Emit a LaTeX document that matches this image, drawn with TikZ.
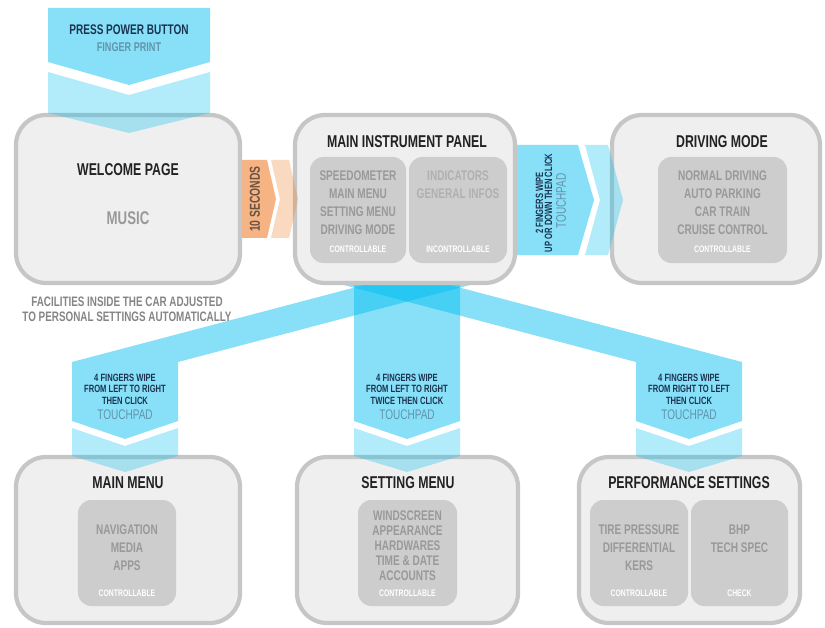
\documentclass[tikz,border=0pt]{standalone}
\usepackage{fontspec}
\setmainfont{Liberation Sans}[FakeStretch=0.72]
\definecolor{wipeblue}{HTML}{00BEF0}
\definecolor{waitorange}{HTML}{F08232}
\definecolor{screenline}{HTML}{C6C6C6}
\definecolor{screenfill}{HTML}{EFEFEF}
\definecolor{panefill}{HTML}{CDCDCD}
\definecolor{itemgrey}{HTML}{999999}
\definecolor{infogrey}{HTML}{B0B0B0}
\definecolor{titledark}{HTML}{222222}
\definecolor{navytext}{HTML}{1C3350}
\definecolor{padtext}{HTML}{6294AC}
\definecolor{notegrey}{HTML}{858585}
\definecolor{secondstext}{HTML}{6A5242}
\tikzset{
  screen/.style={draw=screenline, line width=3.6pt, fill=screenfill, rounded corners=0.9cm, inner sep=0pt},
  pane/.style={fill=panefill, rounded corners=0.4cm, inner sep=0pt},
  band/.style={fill=wipeblue, fill opacity=0.47},
  bandlight/.style={fill=wipeblue, fill opacity=0.3},
  waitband/.style={fill=waitorange, fill opacity=0.6},
  waitlight/.style={fill=waitorange, fill opacity=0.3},
  title/.style={text=titledark, inner sep=0pt, font=\fontsize{14.6}{16}\selectfont\bfseries},
  items/.style={text=itemgrey, align=center, inner sep=0pt, font=\fontsize{11.9}{15.3}\selectfont\bfseries},
  tag/.style={text=white, inner sep=0pt, font=\fontsize{8.1}{9}\selectfont\bfseries},
  gesture/.style={text=navytext, align=center, inner sep=0pt, font=\fontsize{9}{9.8}\selectfont\bfseries},
  pad/.style={text=padtext, inner sep=0pt, font=\fontsize{11.9}{13}\selectfont},
}

\begin{document}
\begin{tikzpicture}[x=0.03cm, y=-0.03cm]
  \useasboundingbox (0,0) rectangle (825,628);

  % dark bands, behind the screens
  \fill[band] (48,8) -- (210,8) -- (210,62) -- (129,85) -- (48,62) -- cycle;
  \fill[waitband] (236,160) -- (267,160) -- (276,199) -- (267,238) -- (236,238) -- cycle;
  \fill[band] (512,145) -- (578,145) -- (594,200) -- (578,255) -- (512,255) -- cycle;
  \fill[band] (72,421) -- (72,362) -- (383,280) -- (489,280) -- (178,362) -- (178,421) -- (125,439) -- cycle;
  \fill[band] (354,280) -- (460,280) -- (460,421) -- (407,439) -- (354,421) -- cycle;
  \fill[band] (636,421) -- (636,362) -- (325,280) -- (431,280) -- (742,362) -- (742,421) -- (689,439) -- cycle;

  \node[screen, minimum width=6.72cm, minimum height=5.04cm] (welcome) at (128,199) {};
  \node[screen, minimum width=6.6cm, minimum height=5.04cm] (panel) at (405,199) {};
  \node[screen, minimum width=6.24cm, minimum height=5.04cm] (drive) at (716,199) {};
  \node[screen, minimum width=6.72cm, minimum height=4.98cm] (mainmenu) at (128,540) {};
  \node[screen, minimum width=6.63cm, minimum height=4.98cm] (setmenu) at (407.5,540) {};
  \node[screen, minimum width=6.63cm, minimum height=4.98cm] (perf) at (689.5,540) {};

  \node[pane, minimum width=2.88cm, minimum height=3.18cm] (panelctl) at (358,210) {};
  \node[pane, minimum width=2.94cm, minimum height=3.18cm] (panelinfo) at (458,210) {};
  \node[pane, minimum width=3.87cm, minimum height=3.18cm] (drivectl) at (722.5,210) {};
  \node[pane, minimum width=2.94cm, minimum height=3.18cm] (menuctl) at (127,553) {};
  \node[pane, minimum width=2.97cm, minimum height=3.18cm] (setctl) at (407.5,553) {};
  \node[pane, minimum width=2.94cm, minimum height=3.18cm] (perfctl) at (639,553) {};
  \node[pane, minimum width=2.91cm, minimum height=3.18cm] (perfchk) at (739.5,553) {};

  % light chevrons, over the screen borders
  \fill[bandlight] (48,72) -- (129,95) -- (210,72) -- (210,113) -- (129,133) -- (48,113) -- cycle;
  \fill[waitlight] (271,160) -- (289,160) -- (298,199) -- (289,238) -- (271,238) -- (280,199) -- cycle;
  \fill[bandlight] (585,145) -- (608,145) -- (623,200) -- (608,255) -- (585,255) -- (600,200) -- cycle;
  \fill[bandlight] (72,428) -- (125,446) -- (178,428) -- (178,456) -- (125,472) -- (72,456) -- cycle;
  \fill[bandlight] (354,428) -- (407,446) -- (460,428) -- (460,456) -- (407,472) -- (354,456) -- cycle;
  \fill[bandlight] (636,428) -- (689,446) -- (742,428) -- (742,456) -- (689,472) -- (636,456) -- cycle;

  \node[text=navytext, font=\fontsize{11.9}{13}\selectfont\bfseries] (presslabel) at (129,30) {PRESS POWER BUTTON};
  \node[text=padtext, font=\fontsize{10.8}{12}\selectfont\bfseries] (fingerlabel) at (129,47) {FINGER PRINT};

  \node[title] (welcometitle) at (128,170) {WELCOME PAGE};
  \node[text=itemgrey, font=\fontsize{15.7}{17}\selectfont\bfseries] (musiclabel) at (128,218) {MUSIC};
  \node[text=notegrey, align=center, font=\fontsize{11.7}{12.8}\selectfont\bfseries] (facilities) at (127,309.5)
    {FACILITIES INSIDE THE CAR ADJUSTED\\TO PERSONAL SETTINGS AUTOMATICALLY};

  \node[text=secondstext, rotate=90, font=\fontsize{12.3}{13}\selectfont\bfseries] (seconds) at (255,199) {10 SECONDS};

  \node[title] (paneltitle) at (407,142) {MAIN INSTRUMENT PANEL};
  \node[items] (panelitems) at (358,203) {SPEEDOMETER\\MAIN MENU\\SETTING MENU\\DRIVING MODE};
  \node[tag] (paneltag) at (358,249) {CONTROLLABLE};
  \node[items, text=infogrey] (infoitems) at (458,185) {INDICATORS\\GENERAL INFOS};
  \node[tag] (infotag) at (458,249) {INCONTROLLABLE};

  \node[text=navytext, rotate=90, align=center, inner sep=0pt, font=\fontsize{9}{7.8}\selectfont\bfseries] (twowipe) at (544,203)
    {2 FINGERS WIPE\\UP OR DOWN THEN CLICK};
  \node[pad, rotate=90] (twopad) at (561,201) {TOUCHPAD};

  \node[title] (drivetitle) at (722,142) {DRIVING MODE};
  \node[items] (driveitems) at (722.5,203) {NORMAL DRIVING\\AUTO PARKING\\CAR TRAIN\\CRUISE CONTROL};
  \node[tag] (drivetag) at (722.5,249) {CONTROLLABLE};

  \node[gesture] (leftwipe) at (125,389) {4 FINGERS WIPE\\FROM LEFT TO RIGHT\\THEN CLICK};
  \node[pad] (leftpad) at (125,415) {TOUCHPAD};
  \node[gesture] (midwipe) at (407,389) {4 FINGERS WIPE\\FROM LEFT TO RIGHT\\TWICE THEN CLICK};
  \node[pad] (midpad) at (407,415) {TOUCHPAD};
  \node[gesture] (rightwipe) at (689,389) {4 FINGERS WIPE\\FROM RIGHT TO LEFT\\THEN CLICK};
  \node[pad] (rightpad) at (689,415) {TOUCHPAD};

  \node[title] (menutitle) at (128,483) {MAIN MENU};
  \node[items] (menuitems) at (127,548) {NAVIGATION\\MEDIA\\APPS};
  \node[tag] (menutag) at (127,593) {CONTROLLABLE};

  \node[title] (settitle) at (408,483) {SETTING MENU};
  \node[items, font=\fontsize{11.9}{12.75}\selectfont\bfseries] (setitems) at (407.5,546)
    {WINDSCREEN\\APPEARANCE\\HARDWARES\\TIME \& DATE\\ACCOUNTS};
  \node[tag] (settag) at (407.5,593) {CONTROLLABLE};

  \node[title] (perftitle) at (689,483) {PERFORMANCE SETTINGS};
  \node[items] (perfitems) at (639,548) {TIRE PRESSURE\\DIFFERENTIAL\\KERS};
  \node[tag] (perftag) at (639,593) {CONTROLLABLE};
  \node[items] (chkitems) at (739.5,538.5) {BHP\\TECH SPEC};
  \node[tag] (chktag) at (739.5,593) {CHECK};
\end{tikzpicture}
\end{document}
